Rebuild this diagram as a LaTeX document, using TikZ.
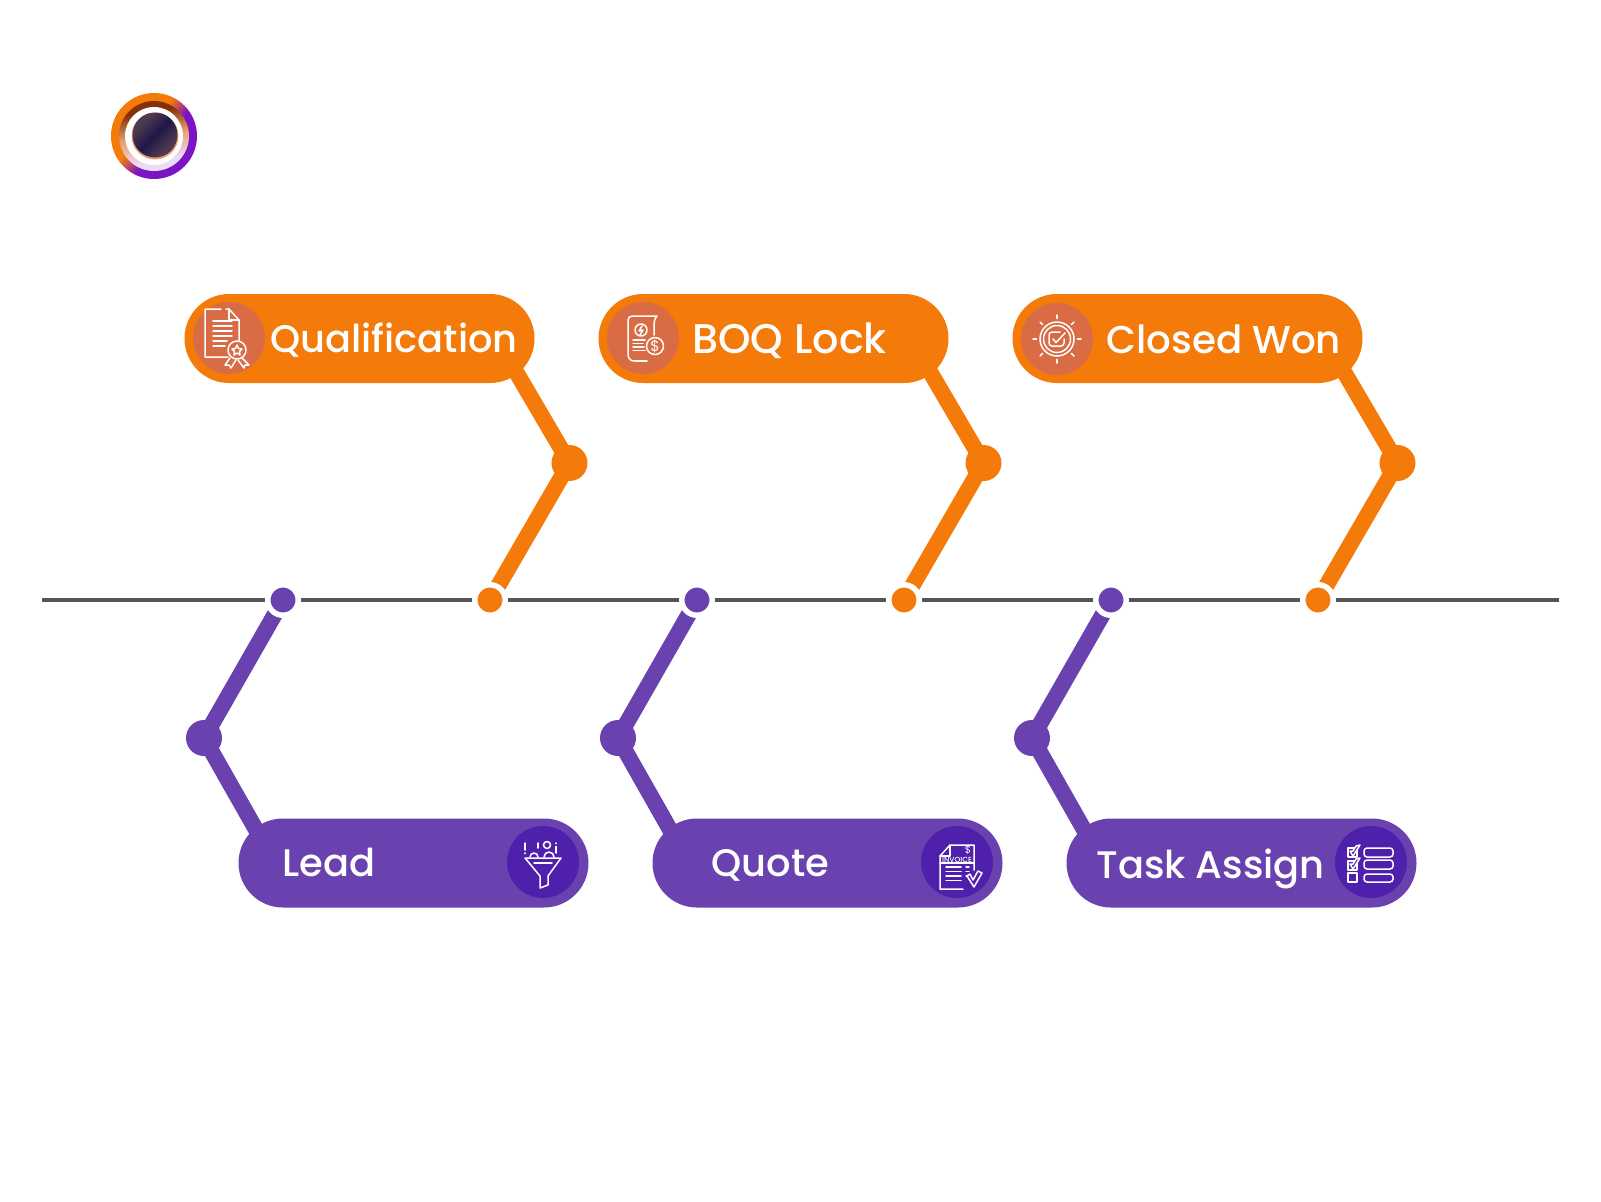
\documentclass[tikz,border=0pt]{standalone}
\usepackage{fontspec}
\setmainfont{Poppins}
\newfontfamily\pillfont{Poppins Medium}
\usepackage{xcolor}
\usetikzlibrary{shapes.misc, shadings, backgrounds}
\definecolor{flowlight}{HTML}{FFFFFF}
\definecolor{floworange}{HTML}{F47A0A}
\definecolor{flowpurple}{HTML}{6A42B0}
\definecolor{flowrust}{HTML}{D96B45}
\definecolor{flowviolet}{HTML}{4F20AB}
\definecolor{flowline}{HTML}{555555}
\definecolor{logopurple}{HTML}{7A14C4}
\definecolor{logobrown}{HTML}{85300A}
\definecolor{logopeach}{HTML}{E8A070}
\definecolor{logopale}{HTML}{EBDCF5}
\definecolor{logocore}{HTML}{1E1848}
\definecolor{logoedge}{HTML}{4E3A50}
\pgfdeclareverticalshading{logoring}{100bp}{color(0bp)=(logopurple); color(44bp)=(logopurple); color(56bp)=(floworange); color(100bp)=(floworange)}
\pgfdeclareverticalshading{logoband}{100bp}{color(0bp)=(logopale); color(32bp)=(logopale); color(50bp)=(logopeach); color(68bp)=(logobrown); color(100bp)=(logobrown)}
\pgfdeclareverticalshading{logoball}{100bp}{color(0bp)=(logoedge); color(30bp)=(logoedge); color(50bp)=(logocore); color(70bp)=(logoedge); color(100bp)=(logoedge)}
\tikzset{
  pillbox/.style={rounded rectangle, minimum width=175pt, minimum height=44.5pt, inner sep=0pt},
  pilltext/.style={text=flowlight, font=\pillfont\fontsize{19.2pt}{24pt}\selectfont, anchor=base west, inner sep=0pt},
  iconspot/.style={circle, minimum size=36pt, inner sep=0pt},
  elbowdot/.style={circle, minimum size=18pt, inner sep=0pt, outer sep=0pt},
  axisdot/.style={circle, draw=flowlight, line width=2.75pt, minimum size=15.25pt, inner sep=0pt},
  linkline/.style={line width=8pt},
  iconline/.style={draw=flowlight, line width=.75pt, line join=round, line cap=round}
}
\begin{document}
\begin{tikzpicture}[x=.5pt, y=-.5pt]
    \useasboundingbox (0,0) rectangle (1601,1201);
    % logo
    \shade[shading=logoring, shading angle=50] (154,136) circle (43);
    \shade[shading=logoband, shading angle=10] (154,136) circle (35);
    \fill[white] (154,136) circle (29);
    \fill[logopeach] (155,136) circle (23.5);
    \shade[shading=logoball, shading angle=45] (155,135) circle (22.5);
    % joints on the axis and the elbows
    \node[axisdot, fill=flowpurple] (leaddot) at (283,600) {};
    \node[axisdot, fill=floworange] (qualdot) at (490,600) {};
    \node[axisdot, fill=flowpurple] (quotedot) at (697,600) {};
    \node[axisdot, fill=floworange] (boqdot) at (904,600) {};
    \node[axisdot, fill=flowpurple] (taskdot) at (1111,600) {};
    \node[axisdot, fill=floworange] (wondot) at (1318,600) {};
    \node[elbowdot, fill=flowpurple] (leadelbow) at (204,738) {};
    \node[elbowdot, fill=floworange] (qualelbow) at (569.5,463) {};
    \node[elbowdot, fill=flowpurple] (quoteelbow) at (618,738) {};
    \node[elbowdot, fill=floworange] (boqelbow) at (983.5,463) {};
    \node[elbowdot, fill=flowpurple] (taskelbow) at (1032,738) {};
    \node[elbowdot, fill=floworange] (wonelbow) at (1397.5,463) {};
    % pills
    \node[pillbox, fill=floworange] (qualbox) at (359.5,338.5) {};
    \node[pillbox, fill=floworange] (boqbox) at (773.5,338.5) {};
    \node[pillbox, fill=floworange] (wonbox) at (1187.5,338.5) {};
    \node[pillbox, fill=flowpurple] (leadbox) at (413.5,863) {};
    \node[pillbox, fill=flowpurple] (quotebox) at (827.5,863) {};
    \node[pillbox, fill=flowpurple] (taskbox) at (1241.5,863) {};
    \node[iconspot, fill=flowrust] (qualicon) at (229,338) {};
    \node[iconspot, fill=flowrust] (boqicon) at (643,338) {};
    \node[iconspot, fill=flowrust] (wonicon) at (1057,339) {};
    \node[iconspot, fill=flowviolet] (leadicon) at (543,862) {};
    \node[iconspot, fill=flowviolet] (quoteicon) at (957,862) {};
    \node[iconspot, fill=flowviolet] (taskicon) at (1371,862) {};
    % labels
    \node[pilltext] (qualtext) at (270,352) {Qualification};
    \node[pilltext, font=\pillfont\fontsize{20.7pt}{24pt}\selectfont] (boqtext) at (692,353) {BOQ Lock};
    \node[pilltext, font=\pillfont\fontsize{19.4pt}{24pt}\selectfont] (wontext) at (1106,353.5) {Closed Won};
    \node[pilltext] (leadtext) at (282,876) {Lead};
    \node[pilltext] (quotetext) at (711,876.5) {Quote};
    \node[pilltext] (tasktext) at (1096,878.5) {Task Assign};
    % where the links run under the pills
    \coordinate (qualend) at (505,353);
    \coordinate (boqend) at (919,353);
    \coordinate (wonend) at (1333,353);
    \coordinate (leadend) at (267,849);
    \coordinate (quoteend) at (681,849);
    \coordinate (taskend) at (1095,849);
    \coordinate (axisleft) at (42,600);
    \coordinate (axisright) at (1559,600);
    \begin{pgfonlayer}{background}
      \fill[white] (0,0) rectangle (1601,1201);
      \draw[flowline, line width=1.6pt] (axisleft) -- (axisright);
      \draw[linkline, floworange] (qualdot.center) -- (qualelbow.center) -- (qualend);
      \draw[linkline, floworange] (boqdot.center) -- (boqelbow.center) -- (boqend);
      \draw[linkline, floworange] (wondot.center) -- (wonelbow.center) -- (wonend);
      \draw[linkline, flowpurple] (leaddot.center) -- (leadelbow.center) -- (leadend);
      \draw[linkline, flowpurple] (quotedot.center) -- (quoteelbow.center) -- (quoteend);
      \draw[linkline, flowpurple] (taskdot.center) -- (taskelbow.center) -- (taskend);
    \end{pgfonlayer}
    % certificate icon
    \begin{scope}[shift={(qualicon)}]
      \draw[iconline] (-1,19) -- (-24,19) -- (-24,-29) -- (-8,-29) (-3,-29) -- (0,-29) -- (10,-18) -- (10,3);
      \draw[iconline] (0,-29) -- (0,-18) -- (10,-18);
      \draw[iconline] (-16,-17) -- (3,-17) (-16,-12) -- (3,-12) (-16,-7) -- (3,-7) (-16,-2) -- (3,-2) (-16,3) -- (-2,3) (-16,8) -- (-4,8);
      \draw[iconline] (8,12) circle (9);
      \draw[iconline] (8,7) -- (9.5,10.5) -- (13,11) -- (10.5,13.5) -- (11,17) -- (8,15) -- (5,17) -- (5.5,13.5) -- (3,11) -- (6.5,10.5) -- cycle;
      \draw[iconline] (1,20) -- (-4,27) -- (0,27) -- (2,30) -- (7,22);
      \draw[iconline] (13,20) -- (20,27) -- (16,27) -- (15,30) -- (9,22);
    \end{scope}
    % price list icon
    \begin{scope}[shift={(boqicon)}]
      \draw[iconline] (-8,23) .. controls (-15,23) and (-15,18) .. (-15,14) -- (-15,-18) .. controls (-15,-21) and (-13,-22) .. (-10,-22) -- (14,-22) .. controls (11,-19) and (11,-15) .. (11,-10) -- (11,-3);
      \draw[iconline] (4,23) -- (-8,23);
      \draw[iconline] (-2,-8) circle (6);
      \draw[iconline] (-1,-12) -- (-4,-7) -- (0,-8) -- (-3,-3);
      \draw[iconline] (-10,2) -- (2,2) (-10,5.5) -- (0,5.5) (-10,9) -- (1,9) (-10,12.5) -- (2,12.5);
      \draw[iconline] (12,8) circle (8.5);
      \node[text=flowlight, font=\fontsize{7.5pt}{8pt}\selectfont, inner sep=0pt] (boqsign) at (12,8) {\$};
    \end{scope}
    % approval icon
    \begin{scope}[shift={(wonicon)}]
      \draw[iconline] (0,0) circle (17);
      \draw[iconline] (0,0) circle (13.5);
      \foreach \a in {0,45,...,315}
        \draw[iconline] (\a:20.5) -- (\a:24);
      \draw[iconline, rounded corners=1.5pt] (3,-7) -- (-8,-7) -- (-8,7) -- (7,7) -- (7,0);
      \draw[iconline] (-4,0) -- (-1,3.5) -- (8,-6);
    \end{scope}
    % funnel icon
    \begin{scope}[shift={(leadicon)}]
      \draw[iconline] (-18,-4) -- (18,-4) -- (5,14) -- (5,23) -- (-3,26) -- (-3,14) -- cycle;
      \draw[iconline] (-9,1) -- (9,1);
      \draw[iconline] (4,-17) circle (3.5);
      \draw[iconline] (-13,-5) arc (180:360:4);
      \draw[iconline] (1,-5) arc (180:360:5);
      \draw[iconline] (-18,-19) -- (-18,-12) (-18,-9) -- (-18,-8.5);
      \draw[iconline] (-5,-19) -- (-5,-14);
      \draw[iconline] (13,-19) -- (13,-18.5) (13,-15.5) -- (13,-9);
    \end{scope}
    % invoice icon
    \begin{scope}[shift={(quoteicon)}]
      \draw[iconline] (6,27) -- (-17,27) -- (-17,-6) -- (-7,-17) -- (17,-17) -- (17,8);
      \draw[iconline] (-17,-6) -- (-7,-6) -- (-7,-17);
      \draw[iconline] (-17,1) -- (17,1);
      \node[text=flowlight, font=\pillfont\fontsize{3.7pt}{4pt}\selectfont, inner sep=0pt] (quoteword) at (0,-2.5) {INVOICE};
      \node[text=flowlight, font=\fontsize{5pt}{6pt}\selectfont, inner sep=0pt] (quotesign) at (11,-12.5) {\$};
      \draw[iconline] (-11,5) -- (4,5) (-11,9.5) -- (4,9.5) (-11,14) -- (4,14) (-11,18.5) -- (4,18.5);
      \draw[iconline] (9,5) -- (12,5) (9,9.5) -- (12,9.5) (9,14) -- (11,14);
      \draw[iconline, fill=flowviolet] (10,14) -- (17,25) -- (25,11) -- (21,9) -- (16,18) -- (13,12) -- cycle;
    \end{scope}
    % checklist icon
    \begin{scope}[shift={(taskicon)}]
      \draw[iconline] (-23,-14) rectangle (-14,-5);
      \draw[iconline] (-23,-1) rectangle (-14,8);
      \draw[iconline] (-23,11) rectangle (-14,20);
      \draw[iconline, fill=flowviolet] (-21,-11) -- (-18,-6) -- (-11,-17) -- (-15,-16) -- (-18,-11) -- cycle;
      \draw[iconline, fill=flowviolet] (-21,2) -- (-18,7) -- (-11,-4) -- (-15,-3) -- (-18,2) -- cycle;
      \draw[iconline, rounded corners=1.5pt] (-7,-14) rectangle (22,-5);
      \draw[iconline, rounded corners=1.5pt] (-7,-2) rectangle (22,7);
      \draw[iconline, rounded corners=1.5pt] (-7,12) rectangle (22,20);
    \end{scope}
\end{tikzpicture}
\end{document}
